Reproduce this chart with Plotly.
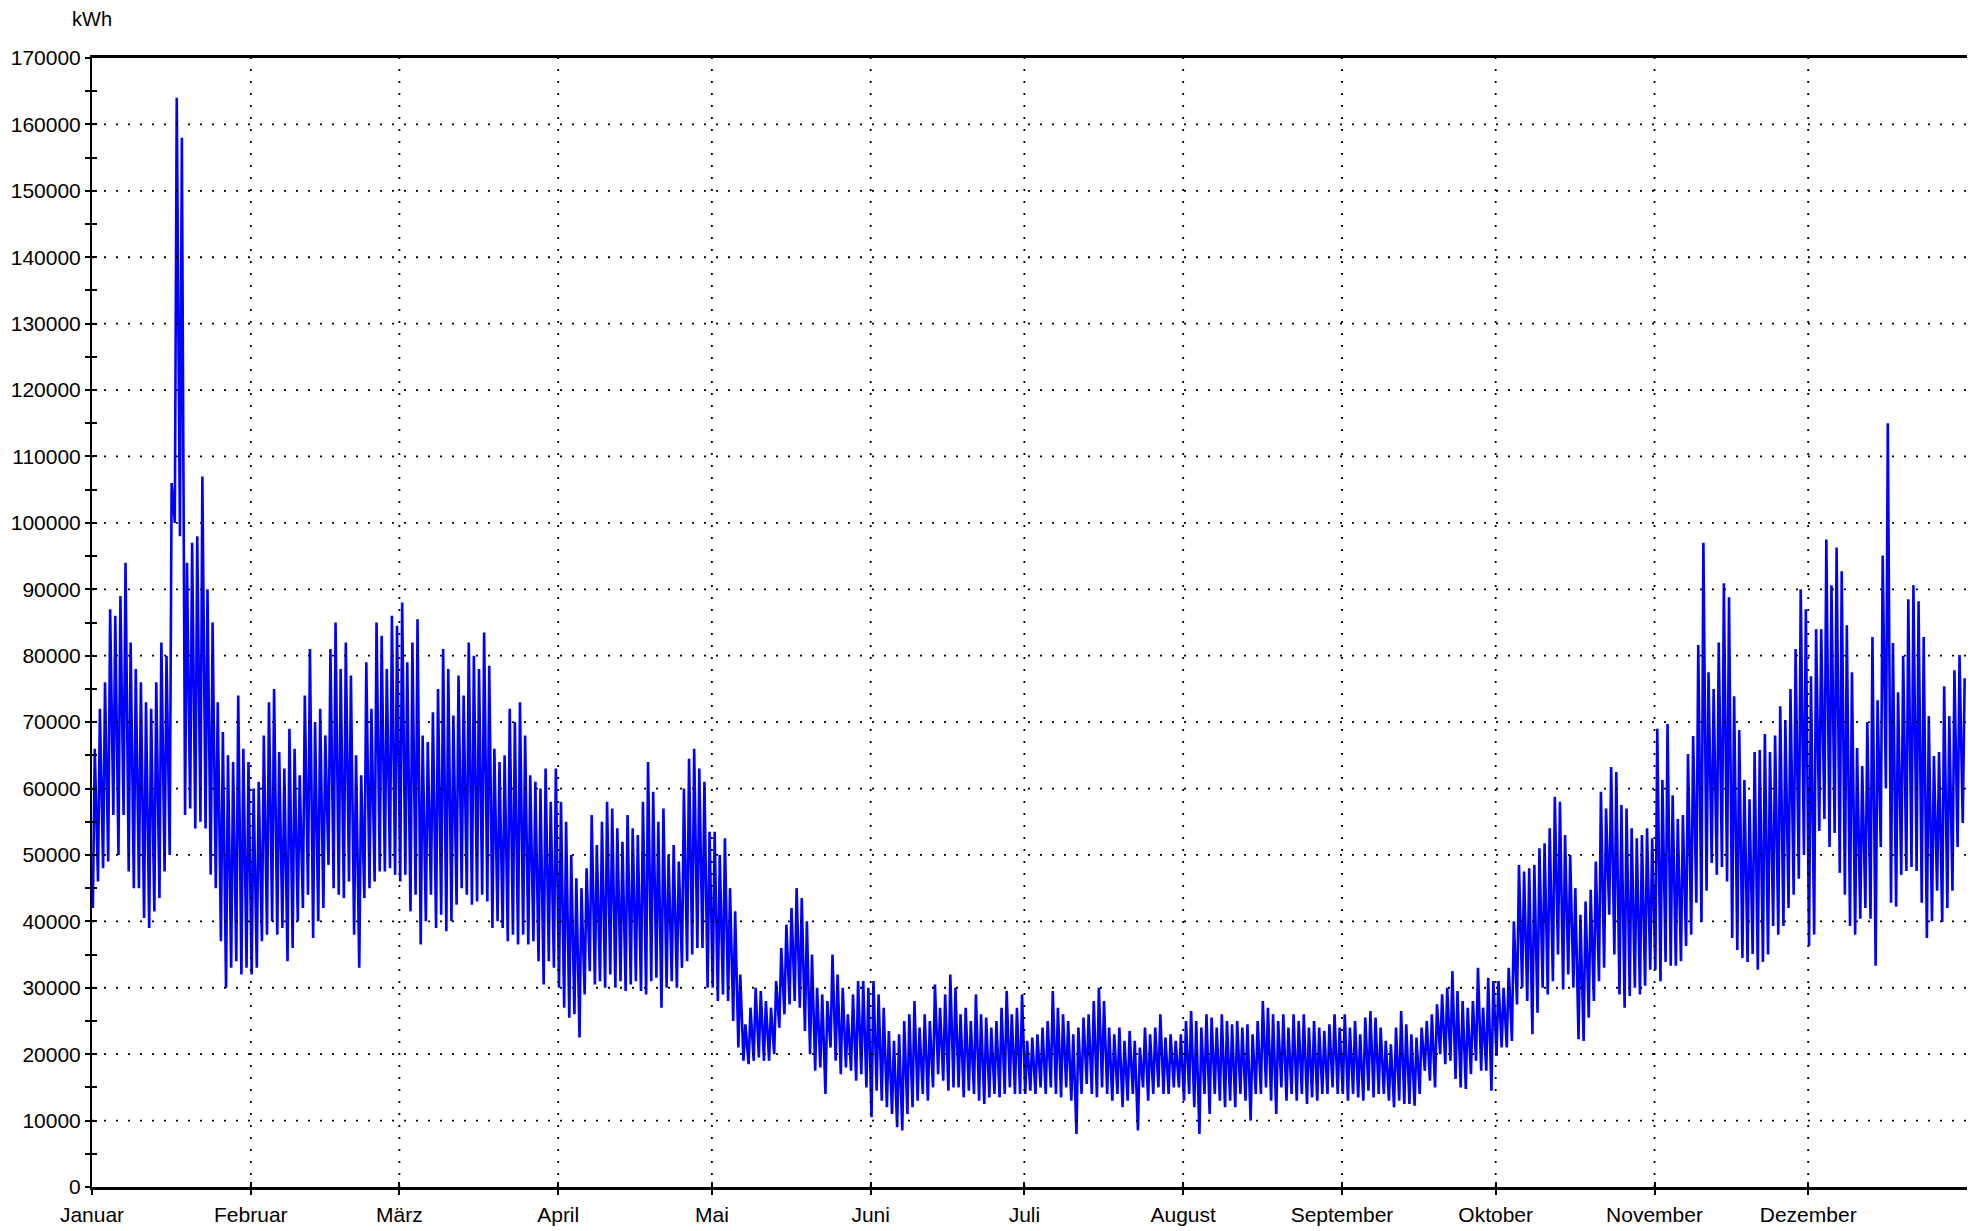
import pandas as pd
import plotly.graph_objects as go

YEAR = 2012  # leap year (Feb has 29 days in the chart)
month_labels = ["Januar", "Februar", "März", "April", "Mai", "Juni", "Juli",
                "August", "September", "Oktober", "November", "Dezember"]
y_ticks = list(range(0, 170001, 10000))

# daily maxima / minima in kWh
jan_hi = [66000, 72000, 76000, 87000, 86000, 89000, 94000, 82000, 78000, 76000,
          73000, 72000, 76000, 82000, 80000, 106000, 164000, 158000, 94000, 97000,
          98000, 107000, 90000, 85000, 73000, 68500, 65000, 64000, 74000, 66000, 64000]
jan_lo = [42000, 46000, 48000, 49000, 56000, 50000, 56000, 47500, 45000, 45000,
          40500, 39000, 41500, 43500, 47500, 50000, 100000, 98000, 56000, 57000,
          54000, 55000, 54000, 47000, 45000, 37000, 30000, 33000, 34000, 32000, 33000]
feb_hi = [60000, 61000, 68000, 73000, 75000, 65500, 63000, 69000, 66000, 62000,
          74000, 81000, 70000, 72000, 68000, 81000, 85000, 78000, 82000, 77000,
          65000, 62000, 79000, 72000, 85000, 83000, 78000, 86000, 84500]
feb_lo = [32000, 33000, 37000, 38000, 40000, 38000, 39000, 34000, 36000, 40000,
          42000, 44000, 37500, 40000, 42000, 48500, 45000, 44000, 43500, 46000,
          38000, 33000, 43500, 45000, 46000, 47500, 47500, 48000, 47000]
mar_hi = [88000, 79000, 82000, 85500, 68000, 67000, 71500, 75000, 81000, 78000,
          71000, 77000, 74000, 82000, 80000, 78000, 83500, 78500, 66000, 64000,
          65000, 72000, 70000, 73000, 68000, 62000, 61000, 60000, 63000, 58000, 63000]
mar_lo = [46000, 47000, 41500, 44000, 36500, 40000, 44000, 39000, 41000, 38500,
          40000, 42500, 45000, 44000, 42500, 43000, 44000, 43000, 39000, 40000,
          39000, 37000, 38000, 36500, 38000, 36500, 37000, 34000, 30500, 34000, 33000]
apr_hi = [58000, 55000, 50000, 46500, 45000, 48000, 56000, 51500, 55000, 58000,
          57000, 54000, 52000, 56000, 54000, 53000, 58000, 64000, 59500, 55000,
          57000, 50000, 51500, 49000, 60000, 64500, 66000, 63000, 61000, 53500]
apr_lo = [30000, 27000, 25500, 26000, 22500, 29000, 32500, 30500, 31000, 30000,
          32000, 30000, 31000, 29500, 30500, 31000, 29500, 29000, 31000, 31500,
          27000, 30000, 31000, 30000, 33000, 34000, 35000, 36000, 36000, 30000]
may_hi = [53500, 50000, 52500, 45000, 41500, 32000, 24500, 27000, 30000, 29500,
          28000, 27000, 31000, 36000, 39500, 42000, 45000, 43500, 40000, 35000,
          30000, 29000, 28000, 35000, 32000, 30000, 26000, 29000, 31000, 31000, 30000]
may_lo = [30000, 28000, 29000, 28000, 25000, 21000, 19000, 18500, 19000, 19500,
          19000, 19000, 20000, 24000, 26000, 27500, 28000, 27000, 23500, 20000,
          17500, 18000, 14000, 21000, 19000, 17000, 18000, 17500, 16000, 17000, 15000]
jun_hi = [31000, 29000, 27000, 23500, 22000, 23000, 25000, 26000, 28000, 24000,
          26000, 25000, 30500, 27000, 29000, 32000, 30000, 26000, 27000, 25000,
          29000, 26000, 25500, 24000, 25000, 27000, 29500, 26000, 27000, 29000]
jun_lo = [10500, 14500, 13000, 12000, 11000, 9000, 8500, 11000, 12000, 13000,
          14000, 13000, 15000, 17000, 16000, 14500, 15000, 15000, 13500, 14500,
          14000, 13000, 12500, 13500, 14000, 13500, 14000, 15000, 14000, 14000]
jul_hi = [22000, 22500, 23000, 24000, 25000, 29500, 27000, 26000, 25000, 23000,
          24000, 25500, 26000, 28000, 30000, 28000, 24000, 23000, 24000, 22000,
          23500, 22000, 21000, 24000, 23000, 24000, 26000, 22500, 23000, 22000, 23000]
jul_lo = [14000, 14500, 14000, 15000, 14000, 15000, 14000, 13500, 15000, 13000,
          8000, 14000, 15500, 14000, 13500, 15000, 14000, 13000, 14000, 12000,
          13000, 14000, 8500, 15000, 13000, 14000, 15000, 14000, 14000, 15000, 15000]
aug_hi = [25000, 26500, 25000, 24000, 26000, 25500, 24000, 26000, 25000, 24500,
          25000, 24000, 24500, 23000, 25000, 28000, 27000, 26000, 25000, 26000,
          24000, 26000, 25000, 26000, 24000, 25000, 24000, 23500, 24500, 26000, 24000]
aug_lo = [13000, 14000, 12000, 8000, 14000, 11000, 14000, 13000, 12000, 13000,
          12000, 14000, 13000, 10000, 14000, 14000, 15000, 13000, 11000, 15000,
          13000, 14000, 13000, 14000, 12500, 13500, 13000, 14000, 14000, 15000, 14000]
sep_hi = [26000, 24000, 25000, 23000, 25500, 26500, 25500, 24000, 22000, 21500,
          24000, 26500, 24500, 23000, 22500, 24000, 25000, 26000, 27500, 29000,
          30000, 32500, 29500, 28000, 27000, 28000, 33000, 27000, 31500, 31000]
sep_lo = [14000, 13000, 14000, 13500, 13000, 14500, 13500, 14000, 14000, 13000,
          12000, 13000, 12500, 12500, 12250, 14000, 17500, 16000, 15000, 20000,
          18500, 19000, 16250, 15000, 14750, 17000, 19000, 17500, 17500, 14500]
oct_hi = [31000, 30000, 33000, 40000, 48500, 47500, 48000, 48500, 51000, 51750,
          54000, 58750, 58000, 53000, 50000, 45000, 41000, 43000, 44750, 49000,
          59500, 57000, 63250, 62500, 57500, 57000, 54000, 52500, 53000, 54000, 52500]
oct_lo = [19750, 21000, 21000, 22000, 27500, 30000, 28000, 23000, 26250, 30000,
          29000, 31000, 35000, 29750, 32000, 30000, 22250, 22000, 25500, 28000,
          31000, 33000, 41000, 35000, 29000, 27000, 28750, 30000, 29000, 30300, 32700]
nov_hi = [69000, 61300, 69700, 59000, 55400, 56000, 65200, 67900, 81600, 97000,
          77500, 75000, 82000, 90900, 88800, 73900, 68800, 61300, 58400, 65500,
          65800, 68200, 65500, 68000, 72400, 70300, 75000, 81000, 90000, 87000]
nov_lo = [32700, 31000, 33900, 33300, 33300, 34000, 36300, 38000, 42800, 39900,
          44600, 48800, 47000, 48200, 46000, 37500, 35700, 34500, 33900, 35100,
          32700, 33900, 35000, 39300, 38000, 39300, 42000, 44000, 46400, 50000]
dec_hi = [76900, 84000, 84000, 97500, 90600, 96300, 92700, 84600, 77500, 66100,
          63400, 70000, 82800, 73300, 95100, 115000, 81900, 74500, 80000, 88500,
          90600, 88200, 82800, 70900, 64900, 65500, 75400, 70900, 77800, 80100, 76600]
dec_lo = [36300, 38000, 53600, 55400, 51200, 53300, 47300, 44000, 39300, 38000,
          40400, 42000, 40400, 33300, 51200, 60000, 42800, 42200, 47000, 47600,
          48200, 47600, 42800, 37500, 40000, 44600, 39900, 42000, 44600, 51200, 54800]

month_hi = [jan_hi, feb_hi, mar_hi, apr_hi, may_hi, jun_hi,
            jul_hi, aug_hi, sep_hi, oct_hi, nov_hi, dec_hi]
month_lo = [jan_lo, feb_lo, mar_lo, apr_lo, may_lo, jun_lo,
            jul_lo, aug_lo, sep_lo, oct_lo, nov_lo, dec_lo]

xs, ys = [], []
for m, (hi, lo) in enumerate(zip(month_hi, month_lo), start=1):
    start = pd.Timestamp(YEAR, m, 1)
    for i, (h, l) in enumerate(zip(hi, lo)):
        day = start + pd.Timedelta(days=i)
        xs += [day + pd.Timedelta(hours=4), day + pd.Timedelta(hours=13)]
        ys += [l, h]

month_starts = [pd.Timestamp(YEAR, m, 1) for m in range(1, 13)]
x_range = [pd.Timestamp(YEAR, 1, 1), pd.Timestamp(YEAR + 1, 1, 1)]

FONT = "Liberation Sans, Arial, sans-serif"
fig = go.Figure()
fig.add_trace(go.Scatter(x=xs, y=ys, mode="lines",
                         line=dict(color="#0000FF", width=2.6),
                         showlegend=False, hoverinfo="skip"))
# helper trace so the overlay axes (inside tick halves) get drawn
fig.add_trace(go.Scatter(x=[x_range[0]], y=[0], xaxis="x2", yaxis="y2",
                         mode="markers", marker=dict(opacity=0),
                         showlegend=False, hoverinfo="skip"))

grid_line = dict(color="black", width=1.8, dash="2px,10px")
shapes = []
for d in month_starts[1:]:
    shapes.append(dict(type="line", xref="x", yref="paper", x0=d, x1=d, y0=0, y1=1,
                       line=grid_line, layer="above"))
for v in y_ticks[1:-1]:
    shapes.append(dict(type="line", xref="paper", yref="y", x0=0, x1=1, y0=v, y1=v,
                       line=grid_line, layer="above"))

# the page body has an 8px margin: figure is sized/margined to compensate
fig.update_layout(
    width=1967, height=1223,
    margin=dict(l=84, r=8, t=50, b=44, autoexpand=False),
    paper_bgcolor="white", plot_bgcolor="white",
    font=dict(family=FONT, size=21, color="#000000"),
    shapes=shapes,
    xaxis=dict(type="date", range=x_range, tickvals=month_starts, ticktext=month_labels,
               ticks="outside", ticklen=5, tickwidth=2, tickcolor="black",
               showline=True, linecolor="black", linewidth=2.5, mirror=True,
               showgrid=False, zeroline=False, ticklabelstandoff=2, automargin=False,
               tickfont=dict(family=FONT, size=21, color="#000000")),
    xaxis2=dict(type="date", range=x_range, overlaying="x", anchor="y", side="bottom",
                tickvals=month_starts, ticks="inside", ticklen=5, tickwidth=2,
                tickcolor="black", showticklabels=False, showline=False,
                showgrid=False, zeroline=False, automargin=False),
    yaxis=dict(range=[0, 170000], tickvals=y_ticks, tickformat="d",
               ticks="outside", ticklen=5, tickwidth=1.6, tickcolor="black",
               minor=dict(dtick=5000, tick0=0, ticks="outside", ticklen=5,
                          tickwidth=1.6, tickcolor="black", showgrid=False),
               showline=True, linecolor="black", linewidth=2, mirror=True,
               showgrid=False, zeroline=False, ticklabelstandoff=0, automargin=False,
               tickfont=dict(family=FONT, size=21, color="#000000")),
    yaxis2=dict(range=[0, 170000], overlaying="y", anchor="x", side="left",
                tickvals=y_ticks, ticks="inside", ticklen=5, tickwidth=1.6,
                tickcolor="black",
                minor=dict(dtick=5000, tick0=0, ticks="inside", ticklen=5,
                           tickwidth=1.6, tickcolor="black", showgrid=False),
                showticklabels=False, showline=False, showgrid=False, zeroline=False,
                automargin=False),
    annotations=[dict(text="kWh", xref="paper", yref="paper",
                      x=-0.0117, y=(1179 - 11) / 1129,
                      xanchor="left", yanchor="middle", showarrow=False,
                      font=dict(family=FONT, size=20, color="#000000"))],
)

fig.write_html("out.html")
